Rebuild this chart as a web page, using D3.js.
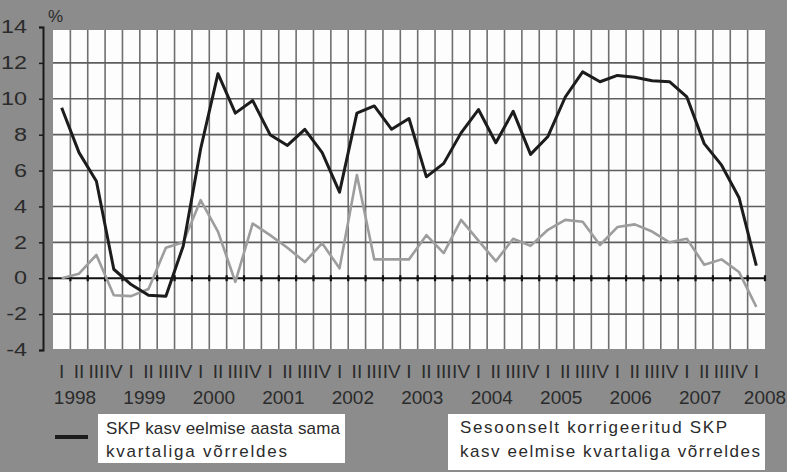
<!DOCTYPE html>
<html>
<head>
<meta charset="utf-8">
<script src="https://cdn.jsdelivr.net/npm/d3@7"></script>
<style>
  body { margin: 0; background: #8c8c8c; }
  svg { display: block; font-family: "Liberation Sans", Arial, sans-serif; }
</style>
</head>
<body>
<svg id="chart" width="787" height="472"></svg>
<script>
// quarter labels and years
var YEARS = ["1998", "1999", "2000", "2001", "2002", "2003", "2004", "2005", "2006", "2007", "2008"];
var ROMAN = ["I", "II", "III", "IV"];

// SKP kasv eelmise aasta sama kvartaliga vorreldes (%)
var GDP_YOY = [9.5, 7.0, 5.4, 0.5,
	-0.35, -0.95, -1.0, 1.8,
	7.2, 11.4, 9.2, 9.9,
	8.0, 7.4, 8.3, 7.0,
	4.8, 9.2, 9.6, 8.3,
	8.9, 5.65, 6.4, 8.1,
	9.4, 7.55, 9.3, 6.9,
	7.9, 10.1, 11.5, 10.95,
	11.3, 11.2, 11.0, 10.95,
	10.1, 7.5, 6.3, 4.5,
	0.7];

// Sesoonselt korrigeeritud SKP kasv eelmise kvartaliga vorreldes (%)
var GDP_QOQ = [0.0, 0.25, 1.3, -0.95,
	-1.0, -0.6, 1.7, 2.0,
	4.35, 2.6, -0.2, 3.05,
	2.4, 1.7, 0.9, 1.95,
	0.55, 5.75, 1.05, 1.05,
	1.05, 2.4, 1.4, 3.25,
	2.1, 0.95, 2.2, 1.8,
	2.7, 3.25, 3.15, 1.85,
	2.85, 3.0, 2.6, 2.0,
	2.2, 0.75, 1.05, 0.35,
	-1.6];

var Y_TICKS = [-4, -2, 0, 2, 4, 6, 8, 10, 12, 14];

var PLOT_L = 53, PLOT_R = 765;
var PLOT_T = 27, PLOT_B = 350;
var AXIS_X = 43;
var TEXT_COLOR = "#2b2b2b";

// quarter keys, e.g. "1998-I"
var quarters = [];
YEARS.forEach(function(y) {
	ROMAN.forEach(function(r) { quarters.push(y + "-" + r); });
});
quarters = quarters.slice(0, GDP_YOY.length);

var svg = d3.select("#chart");

var x = d3.scaleBand().domain(quarters).range([PLOT_L, PLOT_R]).padding(0);
var y = d3.scaleLinear().domain([-4, 14]).range([PLOT_B, PLOT_T]);
var xc = function(q) { return x(q) + x.bandwidth() / 2; };

// stretch text horizontally like the scanned original
function stretchText(sel, k)
{
	sel.each(function() {
		var w = this.getComputedTextLength();
		d3.select(this).attr("textLength", w * k).attr("lengthAdjust", "spacingAndGlyphs");
	});
}

// white plot area
svg.append("rect")
	.attr("x", PLOT_L).attr("y", PLOT_T + 3)
	.attr("width", PLOT_R - PLOT_L).attr("height", PLOT_B - PLOT_T - 4)
	.attr("fill", "#fdfdfd");

// vertical grid at quarter boundaries
var grid = svg.append("g").attr("class", "grid");
grid.selectAll("line.v")
	.data(quarters.slice(1))
	.enter().append("line")
	.attr("class", "v")
	.attr("x1", function(q) { return x(q); }).attr("x2", function(q) { return x(q); })
	.attr("y1", PLOT_T + 3).attr("y2", PLOT_B - 1)
	.attr("stroke", "#6f6f6f").attr("stroke-width", 1.6);

// horizontal grid
grid.selectAll("line.h")
	.data(Y_TICKS.filter(function(v) { return v > -4 && v < 14 && v != 0; }))
	.enter().append("line")
	.attr("class", "h")
	.attr("x1", PLOT_L).attr("x2", PLOT_R)
	.attr("y1", function(v) { return y(v); }).attr("y2", function(v) { return y(v); })
	.attr("stroke", "#5e5e5e").attr("stroke-width", 1.6);

// y axis (plain hyphen for negatives, like the original)
var yAxis = svg.append("g")
	.attr("transform", "translate(" + AXIS_X + ",0)")
	.call(d3.axisLeft(y).tickValues(Y_TICKS).tickSize(4).tickPadding(12)
		.tickFormat(function(v) { return String(v); }));
yAxis.select(".domain").attr("stroke", "#1a1a1a").attr("stroke-width", 2);
yAxis.selectAll(".tick line").attr("stroke", "#1a1a1a").attr("stroke-width", 1.5);
yAxis.selectAll(".tick text")
	.attr("fill", TEXT_COLOR)
	.style("font-size", "18px")
	.call(stretchText, 1.3);

svg.append("text")
	.attr("x", 48).attr("y", 22)
	.attr("fill", TEXT_COLOR)
	.style("font-size", "17px")
	.text("%");

// zero line with quarter ticks
var zeroAxis = svg.append("g")
	.attr("transform", "translate(0," + y(0) + ")");
zeroAxis.append("line")
	.attr("x1", AXIS_X + 5).attr("x2", PLOT_R)
	.attr("stroke", "#111").attr("stroke-width", 2);
zeroAxis.selectAll("line.tk")
	.data(quarters.slice(1).concat(["end"]))
	.enter().append("line")
	.attr("class", "tk")
	.attr("x1", function(q) { return q == "end" ? PLOT_R : x(q); })
	.attr("x2", function(q) { return q == "end" ? PLOT_R : x(q); })
	.attr("y1", -3).attr("y2", 3)
	.attr("stroke", "#111").attr("stroke-width", 2.2);

// series lines
var line = function(vals) {
	return d3.line()
		.x(function(d, i) { return xc(quarters[i]); })
		.y(function(d) { return y(d); })(vals);
};

svg.append("path")
	.attr("d", line(GDP_QOQ))
	.attr("fill", "none")
	.attr("stroke", "#9d9d9d")
	.attr("stroke-width", 2.6)
	.attr("stroke-linejoin", "round");

svg.append("path")
	.attr("d", line(GDP_YOY))
	.attr("fill", "none")
	.attr("stroke", "#1c1c1c")
	.attr("stroke-width", 3)
	.attr("stroke-linejoin", "round");

// quarter numerals
svg.append("g").selectAll("text")
	.data(quarters)
	.enter().append("text")
	.attr("x", function(q) { return xc(q); })
	.attr("y", 378)
	.attr("text-anchor", "middle")
	.attr("fill", TEXT_COLOR)
	.style("font-size", "19px")
	.text(function(q) { return q.split("-")[1]; });

// years (last one kept inside the picture)
svg.append("g").selectAll("text")
	.data(YEARS)
	.enter().append("text")
	.attr("x", function(yr) { return Math.min(x(yr + "-I") + 22, 765); })
	.attr("y", 404)
	.attr("text-anchor", "middle")
	.attr("fill", TEXT_COLOR)
	.style("font-size", "19px")
	.text(function(yr) { return yr; });

// legend
var legend = svg.append("g").attr("class", "legend");
legend.append("line")
	.attr("x1", 55).attr("x2", 88)
	.attr("y1", 437).attr("y2", 437)
	.attr("stroke", "#1c1c1c").attr("stroke-width", 4);

legend.append("rect")
	.attr("x", 98).attr("y", 414).attr("width", 247).attr("height", 49)
	.attr("fill", "#fff");
legend.append("rect")
	.attr("x", 448).attr("y", 414).attr("width", 317).attr("height", 56)
	.attr("fill", "#fff");

var legendText = [
	{ x: 106, y: 434, w: 234, t: "SKP kasv eelmise aasta sama" },
	{ x: 106, y: 457, w: 181, t: "kvartaliga võrreldes" },
	{ x: 460, y: 433, w: 267, t: "Sesoonselt korrigeeritud SKP" },
	{ x: 460, y: 457, w: 300, t: "kasv eelmise kvartaliga võrreldes" }
];
legend.selectAll("text.lt")
	.data(legendText)
	.enter().append("text")
	.attr("class", "lt")
	.attr("x", function(d) { return d.x; })
	.attr("y", function(d) { return d.y; })
	.attr("textLength", function(d) { return d.w; })
	.attr("lengthAdjust", "spacing")
	.attr("fill", TEXT_COLOR)
	.style("font-size", "17px")
	.text(function(d) { return d.t; });
</script>
</body>
</html>
